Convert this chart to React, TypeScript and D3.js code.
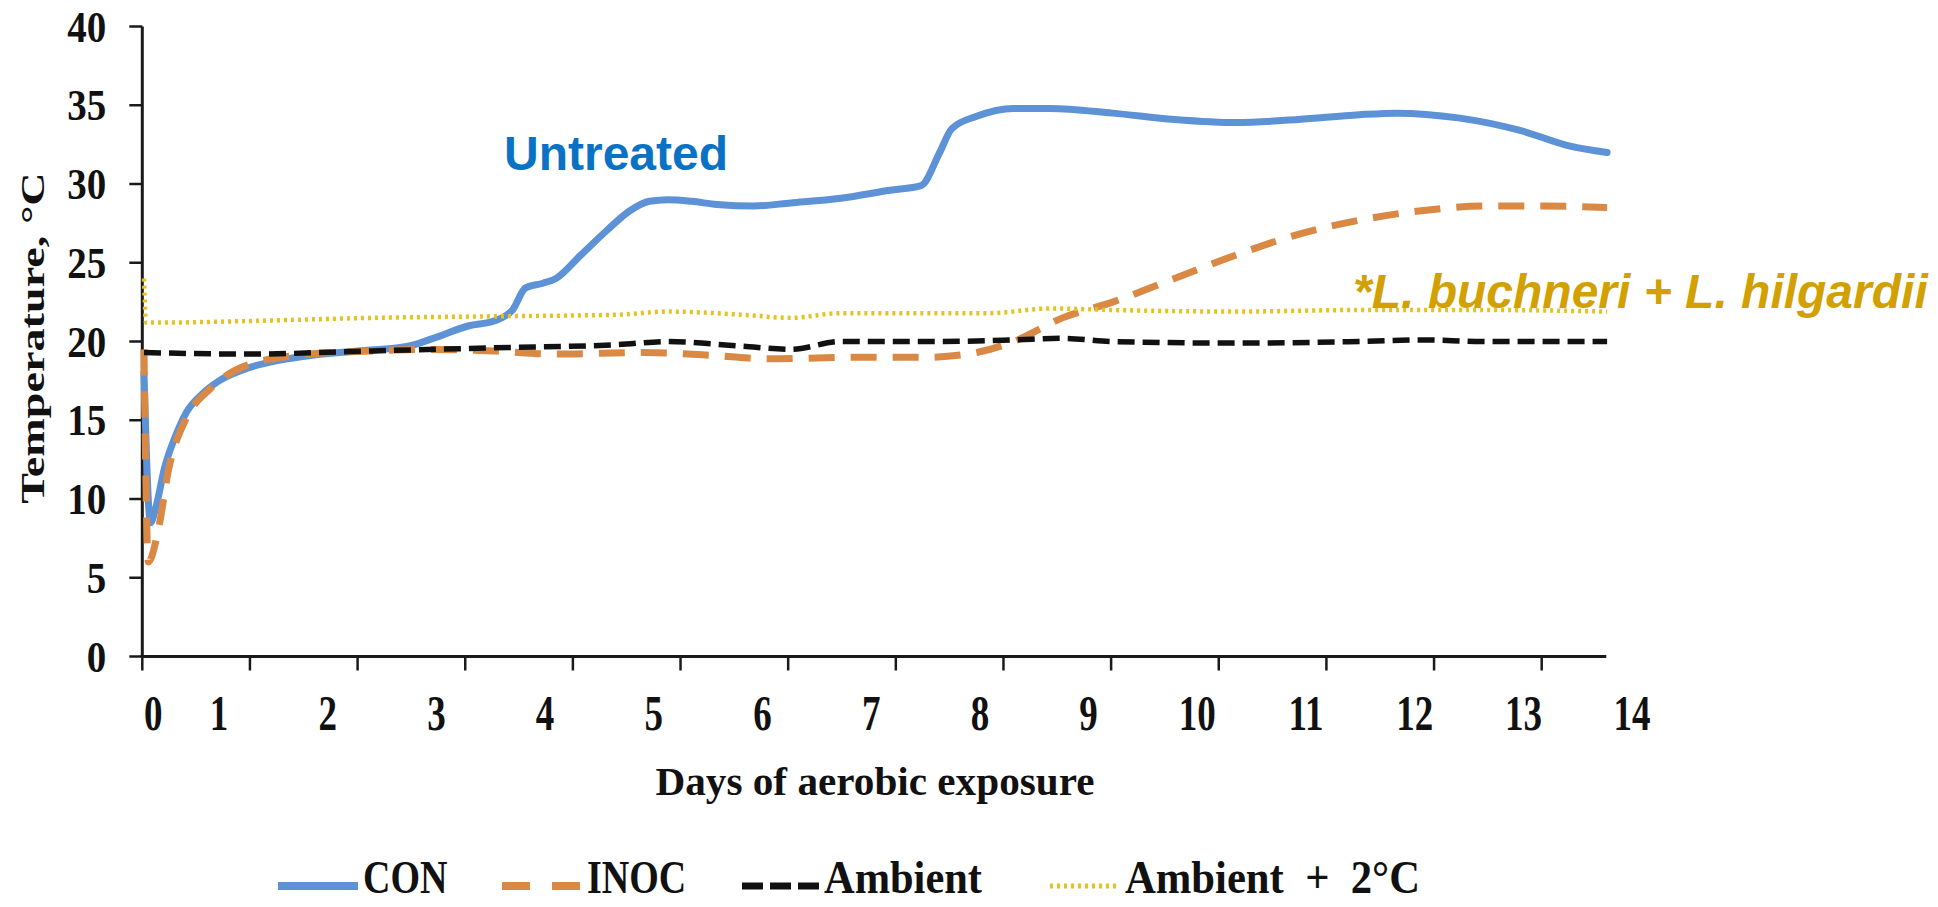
import React from "react";
import * as d3 from "d3";

// ---- data (days of aerobic exposure, temperature °C) ----
const CON_DAYS = [0.31, 0.37, 0.42, 0.5, 0.6, 0.7, 0.85, 1.0, 1.26, 1.55, 1.83, 2.28, 2.74, 2.97, 3.3, 3.53, 3.7, 3.82, 3.98, 4.1, 4.33, 4.56, 4.78, 4.96, 5.13, 5.35, 5.58, 5.92, 6.26, 6.72, 7.17, 7.46, 7.63, 7.74, 7.97, 8.31, 8.65, 9.22, 9.79, 10.36, 10.93, 11.49, 11.84, 12.4, 12.97, 13.43, 13.77];
const CON_TEMP = [18, 8.5, 9.5, 12, 14, 15.5, 16.7, 17.5, 18.3, 18.8, 19.1, 19.4, 19.7, 20.2, 21, 21.3, 22.0, 23.4, 23.7, 24, 25.5, 27, 28.3, 28.9, 29, 28.9, 28.7, 28.6, 28.8, 29.1, 29.6, 29.9, 32, 33.5, 34.3, 34.8, 34.8, 34.5, 34.1, 33.9, 34.1, 34.4, 34.5, 34.2, 33.4, 32.4, 32];

const INOC_DAYS = [0.31, 0.35, 0.44, 0.54, 0.69, 0.92, 1.26, 1.83, 2.4, 2.97, 3.53, 4.1, 4.9, 5.58, 6.04, 6.95, 7.51, 7.97, 8.31, 8.76, 9.22, 9.79, 10.36, 10.93, 11.49, 12.06, 12.63, 13.2, 13.77];
const INOC_TEMP = [19.5, 6, 8, 12, 15, 17, 18.5, 19.2, 19.4, 19.5, 19.4, 19.2, 19.3, 19.1, 18.9, 19.0, 19.0, 19.3, 20, 21.5, 22.5, 24, 25.5, 26.8, 27.7, 28.3, 28.6, 28.6, 28.5];

const AMB_DAYS = [0.31, 1.26, 2.4, 3.53, 4.67, 5.13, 5.81, 6.26, 6.72, 7.63, 8.31, 8.76, 9.22, 10.36, 11.49, 12.06, 12.63, 13.77];
const AMB_TEMP = [19.3, 19.2, 19.4, 19.6, 19.8, 20.0, 19.7, 19.5, 20.0, 20.0, 20.1, 20.2, 20.0, 19.9, 20.0, 20.1, 20.0, 20.0];

const AMB2_DAYS = [0.31, 0.33, 0.46, 1.26, 2.4, 3.53, 4.67, 5.13, 5.81, 6.26, 6.72, 8.08, 8.65, 9.22, 10.36, 11.49, 12.63, 13.77];
const AMB2_TEMP = [24, 21.2, 21.2, 21.3, 21.5, 21.6, 21.7, 21.9, 21.7, 21.5, 21.8, 21.8, 22.1, 22.0, 21.9, 22.0, 22.0, 21.9];

const X_TICK_LABELS = ["0", "1", "2", "3", "4", "5", "6", "7", "8", "9", "10", "11", "12", "13", "14"];
const Y_TICKS = [0, 5, 10, 15, 20, 25, 30, 35, 40];
const TICK_MARKS = [0, 1, 2, 3, 4, 5, 6, 7, 8, 9, 10, 11, 12, 13];

const SERIES_NAMES = ["CON", "INOC", "Ambient", "Ambient\u00A0\u00A0+\u00A0\u00A02°C"];
const SERIES_COLORS = ["#5E92D6", "#D98943", "#111111", "#E6C21E"];

const W = 1938;
const H = 907;
const SERIF = "'Liberation Serif', 'Times New Roman', serif";
const SANS = "'Liberation Sans', Arial, sans-serif";

export default function App() {
  const x = d3.scaleLinear().domain([0, 14]).range([110.3, 1632.1]);
  const tickX = d3.scaleLinear().domain([0, 13]).range([142.3, 1541.7]);
  const y = d3.scaleLinear().domain([0, 40]).range([656.5, 26.5]);
  const axisX = tickX(0);
  const axisEnd = tickX(13.6);
  const axisY = y(0);

  const line = d3
    .line<[number, number]>()
    .x((d) => x(d[0]))
    .y((d) => y(d[1]))
    .curve(d3.curveMonotoneX);

  const zip = (a: number[], b: number[]) => a.map((v, i) => [v, b[i]] as [number, number]);

  const series = [
    { data: zip(CON_DAYS, CON_TEMP), width: 7, dash: undefined as string | undefined, cap: "round" },
    { data: zip(INOC_DAYS, INOC_TEMP), width: 7, dash: "26 16", cap: "butt" },
    { data: zip(AMB_DAYS, AMB_TEMP), width: 5.5, dash: "17 8", cap: "butt" },
    { data: zip(AMB2_DAYS, AMB2_TEMP), width: 4.5, dash: "3 4", cap: "butt" },
  ];

  const legendItems = [
    { x0: 278, x1: 358, tx: 363, dash: undefined as string | undefined, width: 8, len: undefined as number | undefined },
    { x0: 502, x1: 580, tx: 587, dash: "28 22", width: 8, len: undefined as number | undefined },
    { x0: 742, x1: 820, tx: 824, dash: "21 7", width: 7, len: 158 },
    { x0: 1050, x1: 1120, tx: 1125, dash: "3 4", width: 5, len: 295 },
  ];
  const legendY = 886;

  return (
    <svg
      width={W}
      height={H}
      style={{ position: "absolute", left: 0, top: 0, display: "block", background: "#fff" }}
    >
      <rect x={0} y={0} width={W} height={H} fill="#fff" />

      {/* axes */}
      <line x1={axisX} x2={axisX} y1={y(40)} y2={axisY} stroke="#1a1a1a" strokeWidth={3} />
      <line x1={axisX - 1.5} x2={axisEnd} y1={axisY} y2={axisY} stroke="#1a1a1a" strokeWidth={3} />

      {Y_TICKS.map((t) => (
        <g key={"yt" + t}>
          <line x1={axisX - 13} x2={axisX} y1={y(t)} y2={y(t)} stroke="#1a1a1a" strokeWidth={2.5} />
          <text
            transform={`translate(${axisX - 36},${y(t) + 15}) scale(1,1.15)`}
            textAnchor="end"
            fontFamily={SERIF}
            fontWeight="bold"
            fontSize={39}
            fill="#111"
          >
            {t}
          </text>
        </g>
      ))}

      {TICK_MARKS.map((t) => (
        <line
          key={"xt" + t}
          x1={tickX(t)}
          x2={tickX(t)}
          y1={axisY}
          y2={axisY + 14}
          stroke="#1a1a1a"
          strokeWidth={2.5}
        />
      ))}

      {X_TICK_LABELS.map((lab, i) => {
        const px = Math.max(x(i), axisX + 11);
        return (
          <text
            key={"xl" + lab}
            transform={`translate(${px},${730}) scale(1,1.38)`}
            textAnchor="middle"
            fontFamily={SERIF}
            fontWeight="bold"
            fontSize={37}
            fill="#111"
          >
            {lab}
          </text>
        );
      })}

      {/* axis titles */}
      <text
        x={875}
        y={795}
        textAnchor="middle"
        fontFamily={SERIF}
        fontWeight="bold"
        fontSize={41}
        textLength={439}
        lengthAdjust="spacingAndGlyphs"
        fill="#111"
      >
        Days of aerobic exposure
      </text>
      <text
        transform={`translate(44,338) rotate(-90) scale(1.4,1)`}
        textAnchor="middle"
        fontFamily={SERIF}
        fontWeight="bold"
        fontSize={33}
        fill="#111"
      >
        Temperature,  °C
      </text>

      {/* series */}
      {series.map((s, i) => (
        <path
          key={"s" + i}
          d={line(s.data) || ""}
          fill="none"
          stroke={SERIES_COLORS[i]}
          strokeWidth={s.width}
          strokeDasharray={s.dash}
          strokeLinecap={s.cap as any}
          strokeLinejoin="round"
        />
      ))}

      {/* annotations */}
      <text x={504} y={170} fontFamily={SANS} fontWeight="bold" fontSize={48} fill="#0A72C4">
        Untreated
      </text>
      <text
        x={1353}
        y={308}
        fontFamily={SANS}
        fontWeight="bold"
        fontStyle="italic"
        fontSize={48}
        fill="#D2A000"
      >
        *L. buchneri + L. hilgardii
      </text>

      {/* legend */}
      {legendItems.map((it, i) => (
        <g key={"lg" + i}>
          <line
            x1={it.x0}
            x2={it.x1}
            y1={legendY}
            y2={legendY}
            stroke={SERIES_COLORS[i]}
            strokeWidth={it.width}
            strokeDasharray={it.dash}
          />
          <text
            transform={`translate(${it.tx},${893}) scale(1,1.2)`}
            fontFamily={SERIF}
            fontWeight="bold"
            fontSize={38}
            fill="#111"
            textLength={it.len}
            lengthAdjust={it.len ? "spacingAndGlyphs" : undefined}
          >
            {SERIES_NAMES[i]}
          </text>
        </g>
      ))}
    </svg>
  );
}
